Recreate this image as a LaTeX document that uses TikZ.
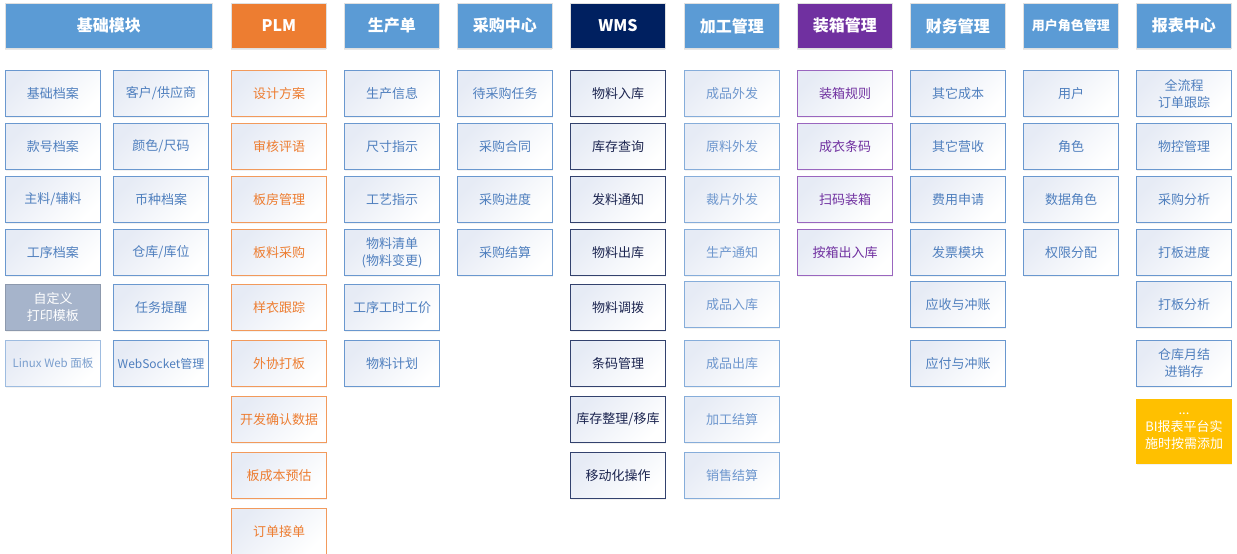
\documentclass[tikz,border=0pt]{standalone}
\usepackage{fontspec}
\usepackage{xcolor}
\usetikzlibrary{shadows}
\newfontfamily\cjk{Noto Sans CJK SC}
\definecolor{hdblue}{HTML}{5B9BD5}
\definecolor{hdorange}{HTML}{ED7D31}
\definecolor{hdnavy}{HTML}{002060}
\definecolor{hdpurple}{HTML}{7030A0}
\definecolor{biyellow}{HTML}{FFC000}
\definecolor{cardtint}{HTML}{E6EBF5}
\definecolor{cardline}{HTML}{6A98CF}
\definecolor{cardtext}{HTML}{4F7FBE}
\definecolor{plmline}{HTML}{F29A5C}
\definecolor{wmsline}{HTML}{33426E}
\definecolor{wmstext}{HTML}{1C2550}
\definecolor{procline}{HTML}{86ADDA}
\definecolor{proctext}{HTML}{6E97CE}
\definecolor{packline}{HTML}{9A66BF}
\definecolor{greyfill}{HTML}{A6B4CB}

\begin{document}
\begin{tikzpicture}[
    x=1pt,y=-1pt,
    hd/.style={rectangle,draw=black!12,line width=0.8pt,fill=hdblue,text=white,
      minimum width=95pt,minimum height=45pt,inner sep=0pt,anchor=north west,
      font=\cjk\bfseries\fontsize{16}{18}\selectfont,
      drop shadow={shadow xshift=0pt,shadow yshift=-2pt,opacity=.18}},
    flat/.style={rectangle,draw=cardline,line width=1pt,text=cardtext,
      minimum width=95pt,minimum height=46pt,inner sep=0pt,anchor=north west,
      align=center,font=\cjk\fontsize{13}{17}\selectfont,
      drop shadow={shadow xshift=0pt,shadow yshift=-1.5pt,opacity=.1}},
    card/.style={flat,top color=cardtint,bottom color=white,shading angle=45},
    plmcard/.style={card,draw=plmline,text=hdorange},
    wmscard/.style={card,draw=wmsline,text=wmstext},
    proccard/.style={card,draw=procline,text=proctext},
    packcard/.style={card,draw=packline,text=hdpurple}
  ]
    \useasboundingbox (0,0) rectangle (1237,554);
    % headers
    \node[hd,minimum width=207pt] (base) at (5,3) {基础模块};
    \node[hd,fill=hdorange] (plm) at (231,3) {PLM};
    \node[hd] (prod) at (344,3) {生产单};
    \node[hd] (purch) at (457,3) {采购中心};
    \node[hd,fill=hdnavy] (wms) at (570,3) {WMS};
    \node[hd] (proc) at (684,3) {加工管理};
    \node[hd,fill=hdpurple] (pack) at (797,3) {装箱管理};
    \node[hd] (fin) at (910,3) {财务管理};
    \node[hd,font=\cjk\bfseries\fontsize{13}{16}\selectfont] (user) at (1023,3) {用户角色管理};
    \node[hd] (report) at (1136,3) {报表中心};
    % 基础模块
    \node[card] (basea1) at (5,70) {基础档案};
    \node[card] (basea2) at (5,123) {款号档案};
    \node[card] (basea3) at (5,176) {主料/辅料};
    \node[card] (basea4) at (5,229) {工序档案};
    \node[flat,fill=greyfill,draw=greyfill!85!black,text=white] (basea5) at (5,284) {自定义\\打印模板};
    \node[card,draw=cardline!65,text=cardtext!75,font=\cjk\fontsize{11.5}{14}\selectfont] (basea6) at (5,340) {Linux Web 面板};
    \node[card] (baseb1) at (113,70) {客户/供应商};
    \node[card] (baseb2) at (113,123) {颜色/尺码};
    \node[card] (baseb3) at (113,176) {币种档案};
    \node[card] (baseb4) at (113,229) {仓库/库位};
    \node[card] (baseb5) at (113,284) {任务提醒};
    \node[card,font=\cjk\fontsize{12}{15}\selectfont] (baseb6) at (113,340) {WebSocket管理};
    % PLM
    \node[plmcard] (plm1) at (231,70) {设计方案};
    \node[plmcard] (plm2) at (231,123) {审核评语};
    \node[plmcard] (plm3) at (231,176) {板房管理};
    \node[plmcard] (plm4) at (231,229) {板料采购};
    \node[plmcard] (plm5) at (231,284) {样衣跟踪};
    \node[plmcard] (plm6) at (231,340) {外协打板};
    \node[plmcard] (plm7) at (231,396) {开发确认数据};
    \node[plmcard] (plm8) at (231,452) {板成本预估};
    \node[plmcard] (plm9) at (231,508) {订单接单};
    % 生产单
    \node[card] (prod1) at (344,70) {生产信息};
    \node[card] (prod2) at (344,123) {尺寸指示};
    \node[card] (prod3) at (344,176) {工艺指示};
    \node[card] (prod4) at (344,229) {物料清单\\(物料变更)};
    \node[card] (prod5) at (344,284) {工序工时工价};
    \node[card] (prod6) at (344,340) {物料计划};
    % 采购中心
    \node[card] (purch1) at (457,70) {待采购任务};
    \node[card] (purch2) at (457,123) {采购合同};
    \node[card] (purch3) at (457,176) {采购进度};
    \node[card] (purch4) at (457,229) {采购结算};
    % WMS
    \node[wmscard] (wms1) at (570,70) {物料入库};
    \node[wmscard] (wms2) at (570,123) {库存查询};
    \node[wmscard] (wms3) at (570,176) {发料通知};
    \node[wmscard] (wms4) at (570,229) {物料出库};
    \node[wmscard] (wms5) at (570,284) {物料调拨};
    \node[wmscard] (wms6) at (570,340) {条码管理};
    \node[wmscard] (wms7) at (570,396) {库存整理/移库};
    \node[wmscard] (wms8) at (570,452) {移动化操作};
    % 加工管理
    \node[proccard] (proc1) at (684,70) {成品外发};
    \node[proccard] (proc2) at (684,123) {原料外发};
    \node[proccard] (proc3) at (684,176) {裁片外发};
    \node[proccard] (proc4) at (684,229) {生产通知};
    \node[proccard] (proc5) at (684,281) {成品入库};
    \node[proccard] (proc6) at (684,340) {成品出库};
    \node[proccard] (proc7) at (684,396) {加工结算};
    \node[proccard] (proc8) at (684,452) {销售结算};
    % 装箱管理
    \node[packcard] (pack1) at (797,70) {装箱规则};
    \node[packcard] (pack2) at (797,123) {成衣条码};
    \node[packcard] (pack3) at (797,176) {扫码装箱};
    \node[packcard] (pack4) at (797,229) {按箱出入库};
    % 财务管理
    \node[card] (fin1) at (910,70) {其它成本};
    \node[card] (fin2) at (910,123) {其它营收};
    \node[card] (fin3) at (910,176) {费用申请};
    \node[card] (fin4) at (910,229) {发票模块};
    \node[card] (fin5) at (910,281) {应收与冲账};
    \node[card] (fin6) at (910,340) {应付与冲账};
    % 用户角色管理
    \node[card] (user1) at (1023,70) {用户};
    \node[card] (user2) at (1023,123) {角色};
    \node[card] (user3) at (1023,176) {数据角色};
    \node[card] (user4) at (1023,229) {权限分配};
    % 报表中心
    \node[card] (report1) at (1136,70) {全流程\\订单跟踪};
    \node[card] (report2) at (1136,123) {物控管理};
    \node[card] (report3) at (1136,176) {采购分析};
    \node[card] (report4) at (1136,229) {打板进度};
    \node[card] (report5) at (1136,281) {打板分析};
    \node[card] (report6) at (1136,340) {仓库月结\\进销存};
    \node[flat,fill=biyellow,draw=biyellow,text=white,minimum height=64pt] (report7) at (1136,399) {...\\BI报表平台实\\施时按需添加};
  \end{tikzpicture}
\end{document}
